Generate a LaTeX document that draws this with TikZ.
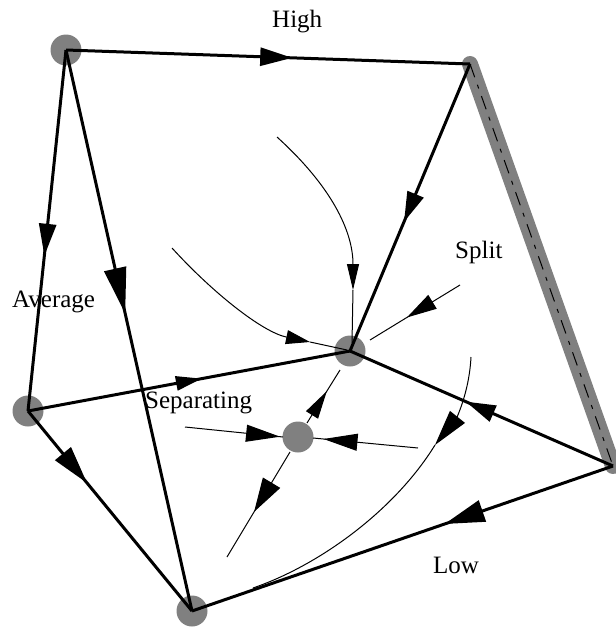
\documentclass[tikz,border=0pt]{standalone}
\usepackage{fontspec}
\setmainfont{Liberation Serif}
\usetikzlibrary{arrows.meta,decorations.markings}
\definecolor{diskgray}{RGB}{128,128,128}
\begin{document}
\begin{tikzpicture}[x=1pt,y=-1pt,
  dot/.style={circle,fill=diskgray,minimum size=31pt,inner sep=0pt},
  pt/.style={inner sep=0pt,minimum size=0pt},
  edgeline/.style={line width=3pt},
  flowline/.style={line width=1pt},
  lbl/.style={anchor=base west,inner sep=0pt,font=\fontsize{25}{28}\selectfont},
  midarr/.style n args={3}{postaction={decorate},decoration={markings,
     mark=at position #1 with {\arrow{Triangle[length=#2,width=#3]}}}},
  endarr/.style n args={2}{-{Triangle[length=#1,width=#2]}}
]
\useasboundingbox (0,0) rectangle (616,627);

% vertices
\node[dot] (A) at (66,50) {};
\node[pt]  (B) at (470,64) {};
\node[pt]  (C) at (613,466) {};
\node[dot] (D) at (192,611) {};
\node[dot] (E) at (28,411) {};
\node[dot] (F) at (350,351) {};
\node[dot] (G) at (298,437) {};

% gray band with dashed line
\draw[line width=16pt,diskgray,line cap=round] (B.center) -- (C.center);
\draw[line width=1pt,dash pattern=on 14pt off 8pt on 4pt off 8pt] (B.center) -- (C.center);

% main edges
\draw[edgeline,midarr={0.56}{32pt}{18pt}] (A.center) -- (B.center);
\draw[edgeline,midarr={0.55}{30pt}{17pt}] (B.center) -- (F.center);
\draw[edgeline,midarr={0.57}{32pt}{17pt}] (A.center) -- (E.center);
\draw[edgeline,midarr={0.47}{46pt}{22pt}] (A.center) -- (D.center);
\draw[edgeline,midarr={0.54}{26pt}{14pt}] (E.center) -- (F.center);
\draw[edgeline,midarr={0.36}{38pt}{20pt}] (E.center) -- (D.center);
\draw[edgeline,midarr={0.56}{30pt}{17pt}] (C.center) -- (F.center);
\draw[edgeline,midarr={0.40}{40pt}{22pt}] (C.center) -- (D.center);

% flow lines near F
\coordinate (t1) at (277,137);
\coordinate (t2) at (353,290);
\coordinate (t3) at (352,343);
\draw[flowline,endarr={26pt}{12pt}] (t1) .. controls (330,185) and (353,230) .. (t2);
\draw[flowline] (t2) -- (t3);

\coordinate (l1) at (172,248);
\coordinate (l2) at (310,342);
\coordinate (l3) at (347,350);
\draw[flowline,endarr={24pt}{14pt}] (l1) .. controls (212,292) and (262,332) .. (l2);
\draw[flowline] (l2) -- (l3);

\coordinate (r1) at (460,285);
\coordinate (r2) at (370,340);
\draw[flowline,midarr={0.59}{30pt}{16pt}] (r1) -- (r2);

% curve on the right
\coordinate (c1) at (471,357);
\coordinate (c2) at (435,445);
\coordinate (c3) at (253,588);
\draw[flowline,endarr={36pt}{19pt}] (c1) .. controls (469,395) and (455,420) .. (c2);
\draw[flowline] (c2) .. controls (395,510) and (320,565) .. (c3);

% flow lines at G
\coordinate (g1) at (307,423);
\coordinate (g2) at (340,370);
\draw[flowline,midarr={0.6}{28pt}{14pt}] (g1) -- (g2);
\coordinate (g3) at (290,452);
\coordinate (g4) at (227,557);
\draw[flowline,midarr={0.57}{34pt}{20pt}] (g3) -- (g4);
\coordinate (g5) at (185,427);
\coordinate (g6) at (283,437);
\draw[flowline,midarr={0.97}{34pt}{17pt}] (g5) -- (g6);
\coordinate (g7) at (418,448);
\coordinate (g8) at (313,438);
\draw[flowline,midarr={0.9}{34pt}{17pt}] (g7) -- (g8);

% labels
\node[lbl] (hi) at (272,27) {High};
\node[lbl] (sp) at (455,258) {Split};
\node[lbl] (av) at (12,307) {Average};
\node[lbl] (se) at (145,408) {Separating};
\node[lbl] (lo) at (433,573) {Low};
\end{tikzpicture}
\end{document}
